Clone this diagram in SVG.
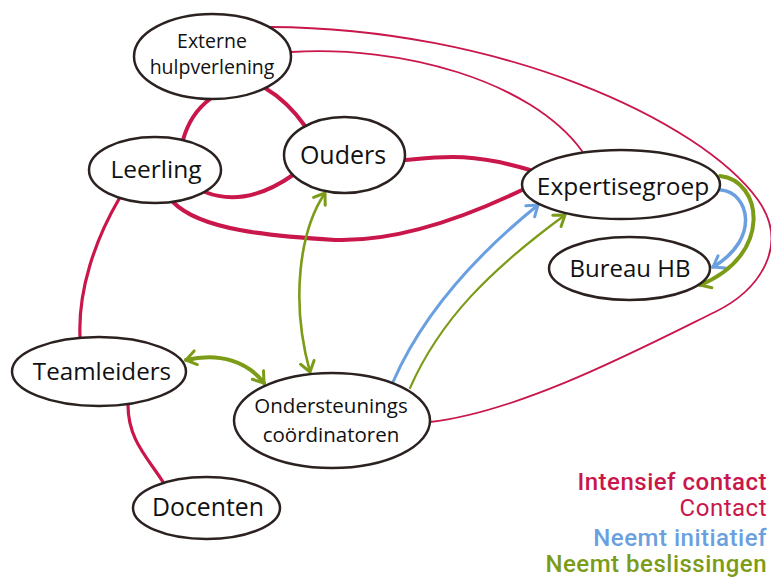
<svg xmlns="http://www.w3.org/2000/svg" width="771" height="579" viewBox="0 0 771 579">
<style>
.node ellipse{fill:#fff;stroke:#2b2220;stroke-width:2.5}
.node text{font-family:"Open Sans","Noto Sans",sans-serif;fill:#111;text-anchor:middle}
.c{fill:none;stroke-linecap:round}
.int{stroke:#c9174b;stroke-width:4}
.con{stroke:#c9174b;stroke-width:1.8}
.blue{stroke:#6a9fe0}
.green{stroke:#7c9b17}
.leg{font-family:Roboto,"Liberation Sans",sans-serif;font-weight:500;font-size:24px;letter-spacing:0.5px;text-anchor:end}
</style>
<defs>
<marker id="ab" markerUnits="userSpaceOnUse" markerWidth="18" markerHeight="18" refX="13" refY="9" orient="auto-start-reverse" viewBox="0 0 18 18">
<path d="M3,2 L13,9 L3,16" fill="none" stroke="#6a9fe0" stroke-width="3" stroke-linecap="round" stroke-linejoin="round"/>
</marker>
<marker id="ag" markerUnits="userSpaceOnUse" markerWidth="18" markerHeight="18" refX="13" refY="9" orient="auto-start-reverse" viewBox="0 0 18 18">
<path d="M3,2 L13,9 L3,16" fill="none" stroke="#7c9b17" stroke-width="3" stroke-linecap="round" stroke-linejoin="round"/>
</marker>
</defs>
<g id="connectors">
<path class="c int" d="M210,99 C198,108 188,122 183,140"/>
<path class="c int" d="M265,88 C282,98 295,112 305,126"/>
<path class="c int" d="M205,192 C230,202 260,198 293,175"/>
<path class="c int" d="M173,202 C200,230 270,236 335,240 C400,242 470,215 522,190"/>
<path class="c int" d="M405,160 C440,157 470,152 530,170"/>
<path class="c int" style="stroke-width:3.2" d="M119,199 C95,240 78,290 80,337"/>
<path class="c int" style="stroke-width:3.2" d="M128,405 C128,440 148,458 163,482"/>
<path class="c con" d="M270,27 C500,28 700,120 758,200 C790,245 760,290 715,312 C640,349 520,412 430,422"/>
<path class="c con" d="M291,52 C400,45 530,80 582,151"/>
<path class="c blue" stroke-width="3" marker-end="url(#ab)" d="M393,382 C420,320 470,260 538,205"/>
<path class="c blue" stroke-width="3.5" marker-end="url(#ab)" d="M721,190 C748,192 762,238 713,267"/>
<path class="c green" stroke-width="2.2" marker-end="url(#ag)" d="M410,388 C440,320 490,270 565,215"/>
<path class="c green" stroke-width="4" marker-end="url(#ag)" d="M720,176 C762,180 774,255 700,285"/>
<path class="c green" stroke-width="2.6" marker-start="url(#ag)" marker-end="url(#ag)" d="M325,193 C300,230 290,300 310,372"/>
<path class="c green" stroke-width="4" marker-start="url(#ag)" marker-end="url(#ag)" d="M186,360 C220,352 248,362 264,383"/>
</g>
<g id="externe" class="node"><ellipse cx="212.5" cy="56.5" rx="78.5" ry="42.5"/><text x="212" y="48" font-size="19.5">Externe</text><text x="212" y="74" font-size="19.5">hulpverlening</text></g>
<g id="leerling" class="node"><ellipse cx="155" cy="170" rx="66" ry="33"/><text x="156" y="178" font-size="24.5">Leerling</text></g>
<g id="ouders" class="node"><ellipse cx="344.5" cy="155" rx="60.5" ry="38"/><text x="343" y="164" font-size="25">Ouders</text></g>
<g id="expertisegroep" class="node"><ellipse cx="621" cy="184.5" rx="99" ry="34.5"/><text x="623" y="195" font-size="24.5">Expertisegroep</text></g>
<g id="bureauhb" class="node"><ellipse cx="629.5" cy="268.5" rx="80.5" ry="31.5"/><text x="630" y="277" font-size="24">Bureau HB</text></g>
<g id="teamleiders" class="node"><ellipse cx="99" cy="371.5" rx="87" ry="34.5"/><text x="102" y="380" font-size="24.2">Teamleiders</text></g>
<g id="ondersteunings" class="node"><ellipse cx="332" cy="420.5" rx="98" ry="47.5"/><text x="331" y="413" font-size="20.5">Ondersteunings</text><text x="331" y="442" font-size="20.5">coördinatoren</text></g>
<g id="docenten" class="node"><ellipse cx="206.5" cy="508" rx="73.5" ry="31"/><text x="208" y="516" font-size="24.8">Docenten</text></g>
<g id="legend">
<text class="leg" x="767" y="490" fill="#c9174b">Intensief contact</text>
<text class="leg" x="767" y="516" fill="#c9174b" style="font-weight:400">Contact</text>
<text class="leg" x="767" y="546" fill="#6a9fe0">Neemt initiatief</text>
<text class="leg" x="767" y="572" fill="#7c9b17">Neemt beslissingen</text>
</g>
</svg>
